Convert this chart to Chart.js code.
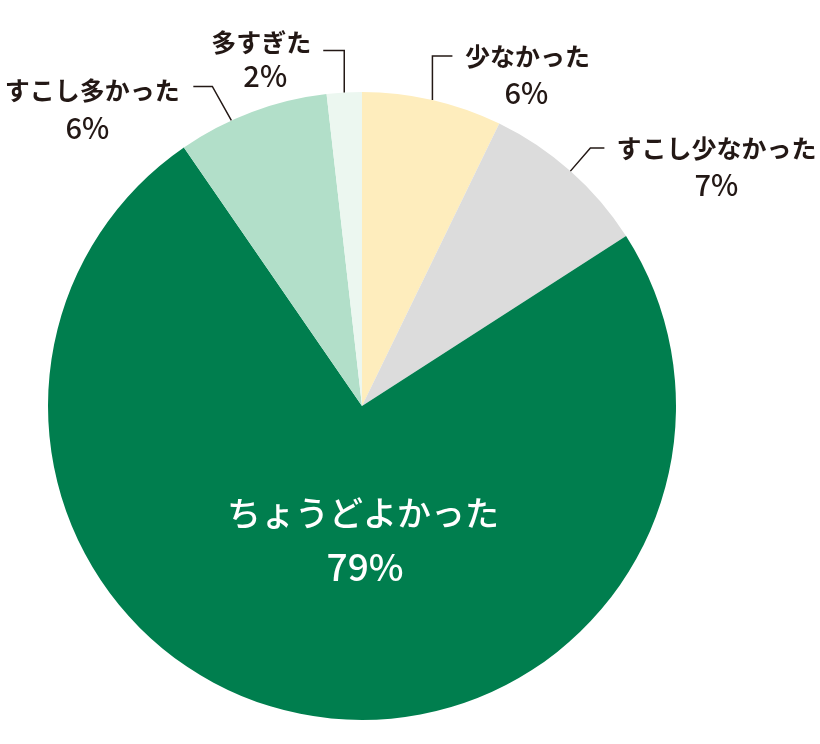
<!DOCTYPE html>
<html>
<head>
<meta charset="utf-8">
<script src="https://cdn.jsdelivr.net/npm/chart.js@4"></script>
<style>
  body { margin: 0; background: #fff; }
  canvas { display: block; }
</style>
</head>
<body>
<canvas id="chart" width="820" height="744"></canvas>
<script>
// categories (clockwise from 12 o'clock)
const labels = ["少なかった", "すこし少なかった", "ちょうどよかった", "すこし多かった", "多すぎた"];
// slice sizes as drawn in the picture
const values = [7.2, 8.7, 74.5, 7.8, 1.8];
// printed percentage texts
const pctLabels = ["6%", "7%", "79%", "6%", "2%"];
const colors = ["#FEEDBD", "#DCDCDC", "#007E4E", "#B2DFC9", "#ECF7F0"];

const ink = "#231815";
const jp = '"Noto Sans CJK JP", "Noto Sans", sans-serif';

// where each label sits, relative to the point on the slice edge (t = position inside slice)
const labelLayout = [
  { t: 0.5, leader: [[0, -44], [20, -44]], name: [95, -43], pct: [94, -7] },
  { t: 0.5, leader: [[20, -23], [34, -23]], name: [146, -23], pct: [146, 14] },
  { inside: true, name: [1, 107], pct: [3, 161] },
  { t: 0.355, leader: [[-19, -34], [-38, -34]], name: [-139, -30], pct: [-144, 8] },
  { t: 0.5, leader: [[0, -42], [-21, -42]], name: [-83, -50], pct: [-79, -17] }
];

const pieLabels = {
  id: "pieLabels",
  afterDatasetsDraw(chart) {
    const ctx = chart.ctx;
    const meta = chart.getDatasetMeta(0);
    meta.data.forEach((arc, i) => {
      const p = arc.getProps(["x", "y", "startAngle", "endAngle", "outerRadius"], true);
      const L = labelLayout[i];
      ctx.save();
      ctx.textAlign = "center";
      ctx.textBaseline = "middle";
      if (L.inside) {
        ctx.fillStyle = "#fff";
        ctx.font = "500 34px " + jp;
        ctx.fillText(labels[i], p.x + L.name[0], p.y + L.name[1]);
        ctx.font = "500 37px " + jp;
        ctx.fillText(pctLabels[i], p.x + L.pct[0], p.y + L.pct[1]);
      } else {
        const a = p.startAngle + (p.endAngle - p.startAngle) * L.t;
        const ex = p.x + Math.cos(a) * p.outerRadius;
        const ey = p.y + Math.sin(a) * p.outerRadius;
        ctx.strokeStyle = ink;
        ctx.lineWidth = 1.5;
        ctx.beginPath();
        ctx.moveTo(ex, ey);
        L.leader.forEach(pt => ctx.lineTo(ex + pt[0], ey + pt[1]));
        ctx.stroke();
        ctx.fillStyle = ink;
        ctx.font = "bold 25px " + jp;
        ctx.fillText(labels[i], ex + L.name[0], ey + L.name[1]);
        ctx.font = "500 29px " + jp;
        ctx.fillText(pctLabels[i], ex + L.pct[0], ey + L.pct[1]);
      }
      ctx.restore();
    });
  }
};

new Chart(document.getElementById("chart"), {
  type: "pie",
  data: {
    labels: labels,
    datasets: [{
      data: values,
      backgroundColor: colors,
      borderWidth: 0
    }]
  },
  options: {
    responsive: false,
    animation: false,
    layout: { padding: { left: 48, right: 144, top: 92, bottom: 24 } },
    plugins: {
      legend: { display: false },
      tooltip: { enabled: false }
    }
  },
  plugins: [pieLabels]
});
</script>
</body>
</html>
